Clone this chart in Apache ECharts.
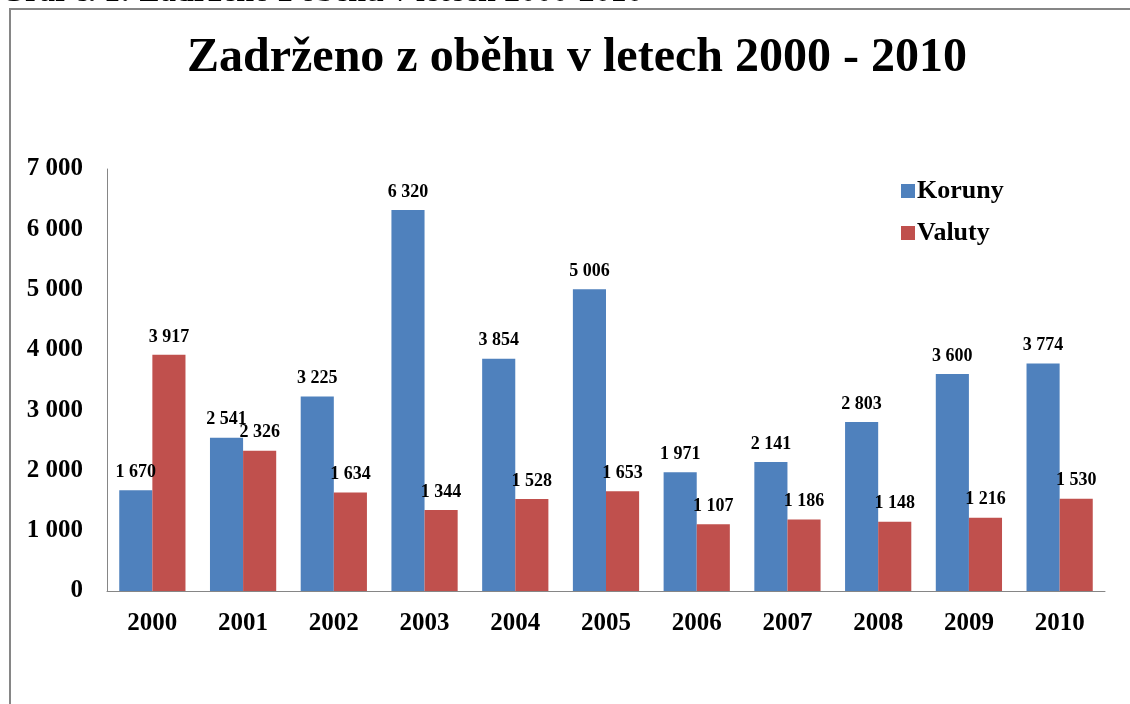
<!DOCTYPE html>
<html>
<head>
<meta charset="utf-8">
<script src="https://cdn.jsdelivr.net/npm/echarts@6/dist/echarts.min.js"></script>
<style>
  html, body { margin: 0; padding: 0; background: #fff; }
  #chart { width: 1130px; height: 704px; }
</style>
</head>
<body>
<div id="chart"></div>
<script>
// Years on the category axis
const years = ['2000', '2001', '2002', '2003', '2004', '2005', '2006', '2007', '2008', '2009', '2010'];
// Counts withdrawn from circulation
const koruny = [1670, 2541, 3225, 6320, 3854, 5006, 1971, 2141, 2803, 3600, 3774];
const valuty = [3917, 2326, 1634, 1344, 1528, 1653, 1107, 1186, 1148, 1216, 1530];
// Value axis range
const yMin = 0, yMax = 7000, yStep = 1000;

const serif = '"Liberation Serif", "Times New Roman", serif';
const fmt = v => String(v).replace(/\B(?=(\d{3})+(?!\d))/g, ' ');

const chart = echarts.init(document.getElementById('chart'), null, { renderer: 'canvas' });

const labelStyle = {
  show: true,
  position: 'top',
  distance: 9,
  fontFamily: serif,
  fontWeight: 'bold',
  fontSize: 18,
  color: '#000',
  formatter: p => fmt(p.value)
};

chart.setOption({
  backgroundColor: '#fff',
  animation: false,
  title: {
    text: 'Zadrženo z oběhu v letech 2000 - 2010',
    left: 182,
    top: 30,
    textStyle: { fontFamily: serif, fontWeight: 'bold', fontSize: 48, color: '#000' }
  },
  legend: {
    orient: 'vertical',
    left: 896,
    top: 173,
    itemWidth: 14,
    itemHeight: 14,
    itemGap: 16,
    icon: 'rect',
    textStyle: { fontFamily: serif, fontWeight: 'bold', fontSize: 26, color: '#000', padding: [0, 0, 0, -3] },
    data: ['Koruny', 'Valuty']
  },
  grid: { left: 107, right: 25, top: 169, bottom: 113, containLabel: false },
  xAxis: {
    type: 'category',
    data: years,
    axisLine: { lineStyle: { color: '#868686', width: 1 } },
    axisTick: { show: false },
    axisLabel: { fontFamily: serif, fontWeight: 'bold', fontSize: 25, color: '#000', margin: 20 }
  },
  yAxis: {
    type: 'value',
    min: yMin,
    max: yMax,
    interval: yStep,
    splitLine: { show: false },
    axisLine: { show: true, lineStyle: { color: '#868686', width: 1 } },
    axisTick: { show: false },
    axisLabel: { fontFamily: serif, fontWeight: 'bold', fontSize: 25, color: '#000', margin: 24, formatter: v => fmt(v) }
  },
  series: [
    {
      name: 'Koruny', type: 'bar', data: koruny,
      barGap: '0%', barCategoryGap: '27%',
      itemStyle: { color: '#4F81BD' },
      label: labelStyle
    },
    {
      name: 'Valuty', type: 'bar', data: valuty,
      barGap: '0%', barCategoryGap: '27%',
      itemStyle: { color: '#C0504D' },
      label: labelStyle
    }
  ],
  graphic: [
    {
      type: 'text',
      left: 0,
      top: -23,
      style: { text: 'Graf č. 1: Zadrženo z oběhu v letech 2000-2010', fontFamily: serif, fontWeight: 'bold', fontSize: 32, fill: '#000' }
    },
    {
      type: 'rect',
      shape: { x: 10, y: 9, width: 1140, height: 720 },
      style: { fill: 'none', stroke: '#868686', lineWidth: 2 }
    }
  ]
});
</script>
</body>
</html>
